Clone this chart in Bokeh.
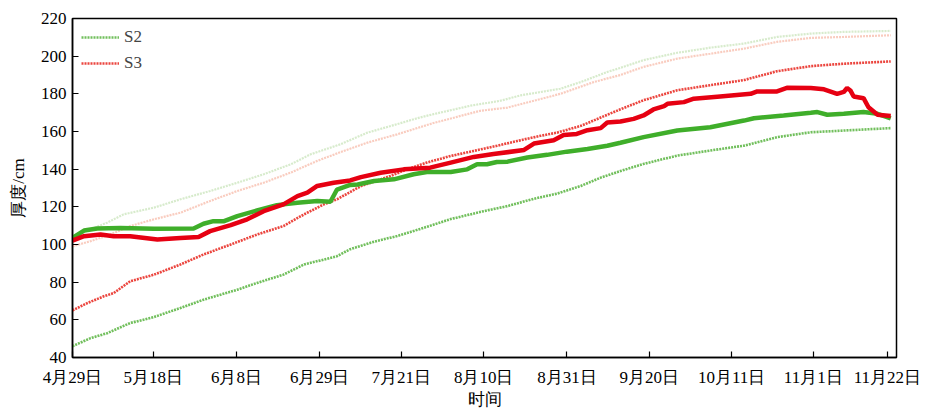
from bokeh.plotting import figure
from bokeh.models import FixedTicker, Range1d, Legend, LegendItem
from bokeh.embed import file_html
from bokeh.resources import INLINE

# x positions are in "tick units" along the date axis (0 = 4月29日)
tick_pos = [0, 0.98, 1.99, 3.0, 3.99, 4.99, 6.0, 7.0, 8.0, 8.99, 9.89]
tick_labels = ["4月29日", "5月18日", "6月8日", "6月29日", "7月21日", "8月10日",
               "8月31日", "9月20日", "10月11日", "11月1日", "11月22日"]

# S2 measured (thick green)
s2_x = [0, 0.14, 0.30, 0.58, 0.99, 1.47, 1.59, 1.71, 1.84, 2.00, 2.24, 2.48, 2.73, 2.97,
        3.13, 3.21, 3.37, 3.46, 3.66, 3.90, 4.14, 4.30, 4.59, 4.79, 4.91, 5.03, 5.15, 5.28,
        5.52, 5.76, 6.00, 6.25, 6.49, 6.65, 6.93, 7.34, 7.74, 8.15, 8.27, 8.63, 8.96, 9.04,
        9.16, 9.36, 9.60, 9.77, 9.93]
s2_y = [103.5, 107.4, 108.5, 108.8, 108.3, 108.5, 111.0, 112.4, 112.4, 115.1, 118.1, 120.9,
        122.2, 123.1, 122.7, 129.2, 131.6, 131.9, 133.7, 134.6, 137.3, 138.5, 138.5, 139.9,
        142.6, 142.6, 143.8, 144.0, 146.2, 147.6, 149.3, 150.7, 152.4, 154.0, 157.0, 160.5,
        162.3, 165.8, 167.0, 168.5, 169.9, 170.3, 168.9, 169.4, 170.3, 169.4, 167.0]

# S3 measured (thick red)
s3_x = [0, 0.14, 0.34, 0.50, 0.70, 1.03, 1.31, 1.53, 1.67, 1.92, 2.12, 2.32, 2.56, 2.73,
        2.85, 2.97, 3.17, 3.37, 3.50, 3.74, 4.02, 4.34, 4.59, 4.87, 5.11, 5.48, 5.60, 5.84,
        5.96, 6.12, 6.25, 6.41, 6.49, 6.65, 6.81, 6.93, 7.05, 7.18, 7.22, 7.42, 7.54, 7.86,
        8.23, 8.31, 8.55, 8.67, 8.96, 9.12, 9.28, 9.36, 9.40, 9.44, 9.48, 9.60, 9.66, 9.77,
        9.93]
s3_y = [102.1, 104.4, 105.3, 104.4, 104.4, 102.6, 103.5, 104.0, 107.1, 110.3, 113.4, 117.7,
        121.3, 125.7, 127.5, 131.1, 132.8, 134.0, 135.8, 138.1, 139.9, 140.8, 143.5, 146.5,
        148.0, 150.2, 153.6, 155.4, 158.2, 158.7, 160.7, 161.8, 164.8, 165.3, 166.7, 168.5,
        171.7, 173.5, 174.7, 175.6, 177.4, 178.6, 180.0, 181.3, 181.3, 183.2, 183.1, 182.4,
        180.0, 181.0, 183.1, 181.8, 178.6, 177.7, 172.9, 168.9, 168.2]

# S2 lower (green dotted)
s2_lo_x = [0, 0.22, 0.42, 0.70, 0.99, 1.31, 1.59, 2.00, 2.24, 2.56, 2.81, 3.05, 3.21, 3.37,
           3.66, 3.94, 4.26, 4.59, 4.99, 5.28, 5.60, 5.88, 6.17, 6.41, 6.65, 6.93, 7.34,
           7.74, 8.15, 8.55, 8.96, 9.36, 9.93]
s2_lo_y = [46.0, 50.3, 52.9, 58.3, 61.5, 66.3, 70.7, 76.0, 79.6, 84.0, 89.4, 92.0, 93.8,
           97.5, 101.5, 104.5, 108.8, 113.5, 117.7, 120.4, 124.3, 127.0, 131.1, 135.5,
           139.0, 142.8, 147.2, 149.9, 152.5, 157.0, 159.6, 160.5, 161.8]

# S3 lower (red dotted)
s3_lo_x = [0, 0.18, 0.38, 0.50, 0.70, 0.99, 1.31, 1.59, 1.92, 2.24, 2.56, 2.81, 3.05, 3.21,
           3.50, 3.86, 4.06, 4.30, 4.59, 4.87, 5.15, 5.40, 5.68, 5.88, 6.17, 6.41, 6.65,
           6.93, 7.34, 7.74, 8.15, 8.55, 8.96, 9.36, 9.93]
s3_lo_y = [65.0, 68.9, 72.5, 74.2, 80.5, 84.0, 89.4, 94.7, 100.0, 105.3, 109.8, 116.0,
           121.3, 124.0, 131.0, 136.4, 139.9, 143.5, 147.0, 149.7, 152.4, 155.0, 157.7,
           159.4, 163.0, 167.4, 171.8, 176.6, 181.9, 184.6, 187.3, 192.0, 194.7, 196.0, 197.2]

# S2 upper (light green dotted)
s2_hi_x = [0, 0.22, 0.42, 0.62, 0.99, 1.31, 1.67, 2.00, 2.32, 2.65, 2.89, 3.25, 3.58, 3.94,
           4.18, 4.38, 4.83, 5.19, 5.44, 5.92, 6.17, 6.49, 6.65, 6.93, 7.34, 7.74, 8.15,
           8.55, 8.96, 9.36, 9.93]
s2_hi_y = [104.0, 108.0, 111.6, 116.0, 119.6, 124.0, 128.4, 132.8, 137.3, 142.6, 147.9,
           153.2, 159.4, 163.9, 167.0, 169.2, 173.7, 176.3, 179.2, 182.7, 186.3, 191.6,
           193.8, 197.9, 201.8, 204.5, 206.7, 210.2, 212.0, 212.9, 213.4]

# S3 upper (light red dotted)
s3_hi_x = [0, 0.22, 0.46, 0.70, 0.99, 1.31, 1.67, 2.00, 2.32, 2.65, 2.97, 3.25, 3.58, 3.94,
           4.38, 4.95, 5.28, 5.60, 5.92, 6.33, 6.65, 6.93, 7.34, 7.74, 8.15, 8.55, 8.96,
           9.36, 9.93]
s3_hi_y = [99.0, 101.8, 105.3, 109.8, 113.4, 116.9, 123.1, 128.4, 132.8, 138.2, 144.4,
           149.0, 154.1, 158.5, 164.5, 171.0, 172.7, 176.3, 180.0, 186.3, 190.0, 194.3,
           198.7, 201.3, 204.0, 207.6, 209.7, 210.2, 211.1]

y_ticks = [40, 60, 80, 100, 120, 140, 160, 180, 200, 220]

SERIF = "Liberation Serif"

p = figure(frame_width=824, frame_height=339, output_backend="svg", toolbar_location=None,
           x_range=Range1d(0, 10.0), y_range=Range1d(40, 220),
           min_border_left=72, min_border_right=29, min_border_top=18, min_border_bottom=48)

p.xgrid.visible = False
p.ygrid.visible = False
p.outline_line_color = "black"
p.outline_line_width = 1.5
p.outline_line_alpha = 1.0

GREEN = "#3FAE2A"
RED = "#E60012"

r_s2hi = p.line(s2_hi_x, s2_hi_y, line_color="#9ACD80", line_alpha=0.4, line_width=2.2, line_dash="2 1")
r_s3hi = p.line(s3_hi_x, s3_hi_y, line_color="#F08060", line_alpha=0.4, line_width=2.2, line_dash="2 1")
r_s2lo = p.line(s2_lo_x, s2_lo_y, line_color="#58B440", line_alpha=0.85, line_width=2.6, line_dash="2 1")
r_s3lo = p.line(s3_lo_x, s3_lo_y, line_color="#E8241C", line_alpha=0.85, line_width=2.6, line_dash="2 1")
r_s2 = p.line(s2_x, s2_y, line_color=GREEN, line_width=4.5)
r_s3 = p.line(s3_x, s3_y, line_color=RED, line_width=4.5)

legend = Legend(items=[LegendItem(label="S2", renderers=[r_s2lo]),
                       LegendItem(label="S3", renderers=[r_s3lo])],
                location="top_left", margin=3, padding=6, spacing=6,
                glyph_width=38, glyph_height=16, label_height=16, label_standoff=5,
                label_text_font=SERIF, label_text_font_size="17px",
                background_fill_alpha=0, border_line_alpha=0)
p.add_layout(legend)

for ax in (p.xaxis[0], p.yaxis[0]):
    ax.axis_line_color = "black"
    ax.axis_line_width = 1.5
    ax.major_tick_in = 6
    ax.major_tick_out = 0
    ax.minor_tick_in = 0
    ax.minor_tick_out = 0
    ax.major_tick_line_color = "black"
    ax.major_tick_line_width = 1.2
    ax.major_label_text_font = SERIF
    ax.major_label_text_font_size = "17px"
    ax.major_label_text_color = "black"
    ax.axis_label_text_font = SERIF
    ax.axis_label_text_font_size = "17px"
    ax.axis_label_text_font_style = "normal"
    ax.axis_label_text_color = "black"

p.xaxis.ticker = FixedTicker(ticks=tick_pos)
p.xaxis.major_label_overrides = {t: l for t, l in zip(tick_pos, tick_labels)}
p.xaxis.major_label_standoff = 10
p.xaxis.axis_label = "时间"
p.xaxis.axis_label_standoff = 0

p.yaxis.ticker = FixedTicker(ticks=y_ticks)
p.yaxis.major_label_standoff = 6
p.yaxis.axis_label = "厚度/cm"
p.yaxis.axis_label_standoff = 10

open("out.html", "w").write(file_html(p, INLINE))
